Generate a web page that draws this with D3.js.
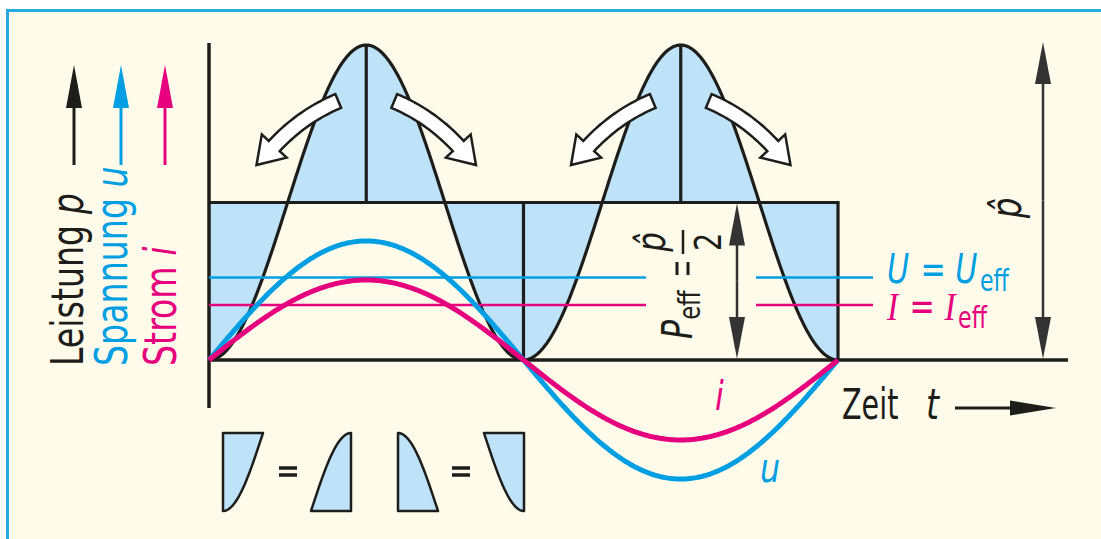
<!DOCTYPE html>
<html>
<head>
<meta charset="utf-8">
<script src="https://cdn.jsdelivr.net/npm/d3@7"></script>
<style>
  body { margin: 0; background: #fff; }
</style>
</head>
<body>
<div id="chart"></div>
<script>
// Curves (values relative to the power peak p^ = 1)
const seriesNames = ["p", "u", "i"];
const seriesPeaks = [1.0, 0.378, 0.254];
const seriesColors = ["#1d1d1b", "#009fe3", "#e6007e"];
// RMS levels
const effNames = ["U", "I"];
const effLevels = [0.262, 0.175];
const pEffLevel = 0.5;
// Axis labels (rotated, left)
const axisWords = ["Leistung ", "Spannung ", "Strom "];
const axisSymbols = ["p", "u", "i"];

const W = 1101, H = 539;
const FONT = "'DejaVu Sans Condensed','DejaVu Sans',sans-serif";
const BLACK = "#1d1d1b", FILL = "#bee3f8", CREAM = "#fffbea";

const svg = d3.select("#chart").append("svg")
    .attr("width", W).attr("height", H);

// frame
svg.append("rect").attr("x", 7.5).attr("y", 10.5).attr("width", 1200).attr("height", 700)
    .attr("fill", CREAM).attr("stroke", "#29a9e1").attr("stroke-width", 3);

// scales: t in radians, one voltage period
const x = d3.scaleLinear().domain([0, 2 * Math.PI]).range([209, 838]);
const y = d3.scaleLinear().domain([0, 1]).range([360, 45]);

const pFn = t => seriesPeaks[0] * Math.sin(t) ** 2;
const ts = d3.range(0, 2 * Math.PI + 1e-9, Math.PI / 200);

// filled difference between p and P_eff
svg.append("path")
    .datum(ts)
    .attr("fill", FILL)
    .attr("d", d3.area().x(t => x(t)).y0(y(pEffLevel)).y1(t => y(pFn(t))));

// rectangle at P_eff and verticals
const g = svg.append("g").attr("stroke", BLACK).attr("stroke-width", 3.2).attr("fill", "none");
g.append("line").attr("x1", x(0)).attr("x2", x(2 * Math.PI) + 1.5)
    .attr("y1", y(pEffLevel)).attr("y2", y(pEffLevel));
[Math.PI, 2 * Math.PI].forEach(t => {
  g.append("line").attr("x1", x(t)).attr("x2", x(t)).attr("y1", y(pEffLevel)).attr("y2", y(0));
});
[Math.PI / 2, 3 * Math.PI / 2].forEach(t => {
  g.append("line").attr("x1", x(t)).attr("x2", x(t)).attr("y1", y(1)).attr("y2", y(pEffLevel));
});

// p curve
svg.append("path").datum(ts)
    .attr("fill", "none").attr("stroke", BLACK).attr("stroke-width", 3.2)
    .attr("d", d3.line().x(t => x(t)).y(t => y(pFn(t))));

// axes
svg.append("line").attr("x1", x(0)).attr("x2", x(0)).attr("y1", 43).attr("y2", 408)
    .attr("stroke", BLACK).attr("stroke-width", 3.5);
svg.append("line").attr("x1", x(0)).attr("x2", 1068).attr("y1", y(0)).attr("y2", y(0))
    .attr("stroke", BLACK).attr("stroke-width", 3.5);

// effective value lines (broken around the P_eff label)
effLevels.forEach((v, k) => {
  [[x(0), 646], [756, 873]].forEach(([a, b]) => {
    svg.append("line").attr("x1", a).attr("x2", b).attr("y1", y(v)).attr("y2", y(v))
        .attr("stroke", seriesColors[k + 1]).attr("stroke-width", 2.5);
  });
});

// u and i sine curves
[1, 2].forEach(k => {
  svg.append("path").datum(ts)
      .attr("fill", "none").attr("stroke", seriesColors[k]).attr("stroke-width", 5)
      .attr("d", d3.line().x(t => x(t)).y(t => y(seriesPeaks[k] * Math.sin(t))));
});

// curved white arrows at each p peak
function curvedArrow(px, py, s) {
  const P0 = [px + s * 28, py + 56], C = [px + s * 64, py + 71], P1 = [px + s * 92, py + 101];
  const hw = 7.5, hh = 17, hl = 26, n = 24;
  const L = [], R = [];
  for (let i = 0; i <= n; i++) {
    const u = i / n;
    const pt = [(1 - u) ** 2 * P0[0] + 2 * u * (1 - u) * C[0] + u * u * P1[0],
                (1 - u) ** 2 * P0[1] + 2 * u * (1 - u) * C[1] + u * u * P1[1]];
    let tx = 2 * (1 - u) * (C[0] - P0[0]) + 2 * u * (P1[0] - C[0]);
    let ty = 2 * (1 - u) * (C[1] - P0[1]) + 2 * u * (P1[1] - C[1]);
    const len = Math.hypot(tx, ty); tx /= len; ty /= len;
    L.push([pt[0] - ty * hw, pt[1] + tx * hw]);
    R.push([pt[0] + ty * hw, pt[1] - tx * hw]);
  }
  let dx = P1[0] - C[0], dy = P1[1] - C[1];
  const dl = Math.hypot(dx, dy); dx /= dl; dy /= dl;
  const pts = [...L,
    [P1[0] - dy * hh, P1[1] + dx * hh],
    [P1[0] + dx * hl, P1[1] + dy * hl],
    [P1[0] + dy * hh, P1[1] - dx * hh],
    ...R.reverse()];
  svg.append("path").attr("d", "M" + pts.map(p => p.join(",")).join("L") + "Z")
      .attr("fill", "#fff").attr("stroke", BLACK).attr("stroke-width", 2.5)
      .attr("stroke-linejoin", "miter");
}
[Math.PI / 2, 3 * Math.PI / 2].forEach(t => {
  curvedArrow(x(t), y(1), -1);
  curvedArrow(x(t), y(1), 1);
});

// straight arrows
function arrow(x1, y1, x2, y2, color, w, hl, hh) {
  const L = Math.hypot(x2 - x1, y2 - y1), dx = (x2 - x1) / L, dy = (y2 - y1) / L;
  svg.append("line").attr("x1", x1).attr("y1", y1)
      .attr("x2", x2 - dx * hl * 0.8).attr("y2", y2 - dy * hl * 0.8)
      .attr("stroke", color).attr("stroke-width", w);
  const bx = x2 - dx * hl, by = y2 - dy * hl;
  svg.append("path")
      .attr("d", `M${x2},${y2}L${bx - dy * hh},${by + dx * hh}L${bx + dy * hh},${by - dx * hh}Z`)
      .attr("fill", color);
}
function doubleArrow(xx, y1, y2) {
  const mid = (y1 + y2) / 2;
  arrow(xx, mid, xx, y1, "#333", 2.5, 42, 8);
  arrow(xx, mid, xx, y2, "#333", 2.5, 42, 8);
}
doubleArrow(737, y(pEffLevel) + 1, y(0) - 1);
doubleArrow(1043, y(1) - 3, y(0) - 1);

// axis label arrows (left)
[74, 121, 165].forEach((ax, k) => arrow(ax, 165, ax, 65, seriesColors[k], 3, 43, 8));
arrow(955, 408, 1056, 408, BLACK, 3, 46, 7.5);

// text helper
function label(xx, yy, rot, parts, color, size, anchor, sx) {
  const t = svg.append("text")
      .attr("transform", `translate(${xx},${yy}) rotate(${rot}) scale(${sx || 0.86},1)`)
      .attr("font-family", FONT).attr("font-stretch", "condensed")
      .attr("font-size", size || 43).attr("fill", color)
      .attr("text-anchor", anchor || "start");
  let shift = 0;
  parts.forEach(p => {
    const s = t.append("tspan").text(p.t);
    if (p.it) s.attr("font-style", "italic");
    if (p.serif) s.attr("font-family", "'Liberation Serif',serif");
    const target = p.sub ? 8 : 0;
    if (target !== shift) { s.attr("dy", target - shift); shift = target; }
    if (p.sub) s.attr("font-size", 30);
    if (p.dx) s.attr("dx", p.dx);
  });
  return t;
}

// left rotated labels
[83, 127, 176].forEach((bx, k) => {
  label(bx, 366, -90, [{t: axisWords[k]}, {t: axisSymbols[k], it: true}], seriesColors[k], 44, "start", 0.84);
});

// right labels for RMS values
label(887, 283, 0, [{t: effNames[0], it: true}, {t: " = ", dx: 2}, {t: effNames[0], it: true}, {t: "eff", sub: true, dx: 3}], seriesColors[1], 41, "start", 0.82);
label(887, 320, 0, [{t: effNames[1], it: true, serif: true}, {t: "  = ", dx: 2}, {t: effNames[1], it: true, serif: true}, {t: "eff", sub: true, dx: 3}], seriesColors[2], 41, "start", 0.82);

// curve labels
label(715, 410, 0, [{t: "i", it: true}], seriesColors[2], 41);
label(760, 482, 0, [{t: "u", it: true}], seriesColors[1], 41);

// time label
label(842, 419, 0, [{t: "Zeit"}], BLACK, 43, "start", 0.74);
label(926, 419, 0, [{t: "t", it: true}], BLACK, 43);

// p-hat on the right
label(1021, 208, -90, [{t: "p\u0302", it: true}], BLACK, 42, "middle");

// P_eff = p^/2 (rotated)
const fg = svg.append("g").attr("transform", "translate(692,339) rotate(-90)");
function flabel(lx, ly, parts, size, anchor) {
  const t = fg.append("text").attr("transform", `translate(${lx},${ly}) scale(0.84,1)`)
      .attr("font-family", FONT).attr("font-stretch", "condensed")
      .attr("font-size", size || 42).attr("fill", BLACK).attr("text-anchor", anchor || "start");
  parts.forEach(p => {
    const s = t.append("tspan").text(p.t);
    if (p.it) s.attr("font-style", "italic");
    if (p.sub) s.attr("dy", 8).attr("font-size", 30);
  });
}
flabel(0, 0, [{t: "P", it: true}, {t: "eff", sub: true}]);
flabel(97, -27, [{t: "p\u0302", it: true}], 41, "middle");
flabel(97, 29, [{t: "2"}], 38, "middle");
fg.append("line").attr("x1", 85).attr("x2", 109).attr("y1", -9).attr("y2", -9)
    .attr("stroke", BLACK).attr("stroke-width", 2.5);
[-15, -4].forEach(ly => {
  fg.append("line").attr("x1", 64).attr("x2", 77).attr("y1", ly).attr("y2", ly)
      .attr("stroke", BLACK).attr("stroke-width", 3);
});

// small equal-area shapes at bottom-left
const shapeX = [223, 311, 398, 484];
shapeX.forEach((x0, k) => {
  const t0 = k * Math.PI / 4, t1 = (k + 1) * Math.PI / 4;
  const sx = d3.scaleLinear().domain([t0, t1]).range([x0, x0 + 40]);
  const lo = (k === 0 || k === 3) ? 0 : pEffLevel;
  const sy = d3.scaleLinear().domain([lo, lo + 0.5]).range([511, 433]);
  const area = d3.area().x(t => sx(t)).y0(sy(pEffLevel)).y1(t => sy(pFn(t)));
  svg.append("path").datum(d3.range(t0, t1 + 1e-9, (t1 - t0) / 40))
      .attr("fill", FILL).attr("stroke", BLACK).attr("stroke-width", 2.5)
      .attr("stroke-linejoin", "round")
      .attr("d", d => area(d));
});
[279, 452].forEach(ex => {
  [468, 475].forEach(ey => {
    svg.append("line").attr("x1", ex).attr("x2", ex + 18).attr("y1", ey).attr("y2", ey)
        .attr("stroke", BLACK).attr("stroke-width", 3.5);
  });
});
</script>
</body>
</html>
